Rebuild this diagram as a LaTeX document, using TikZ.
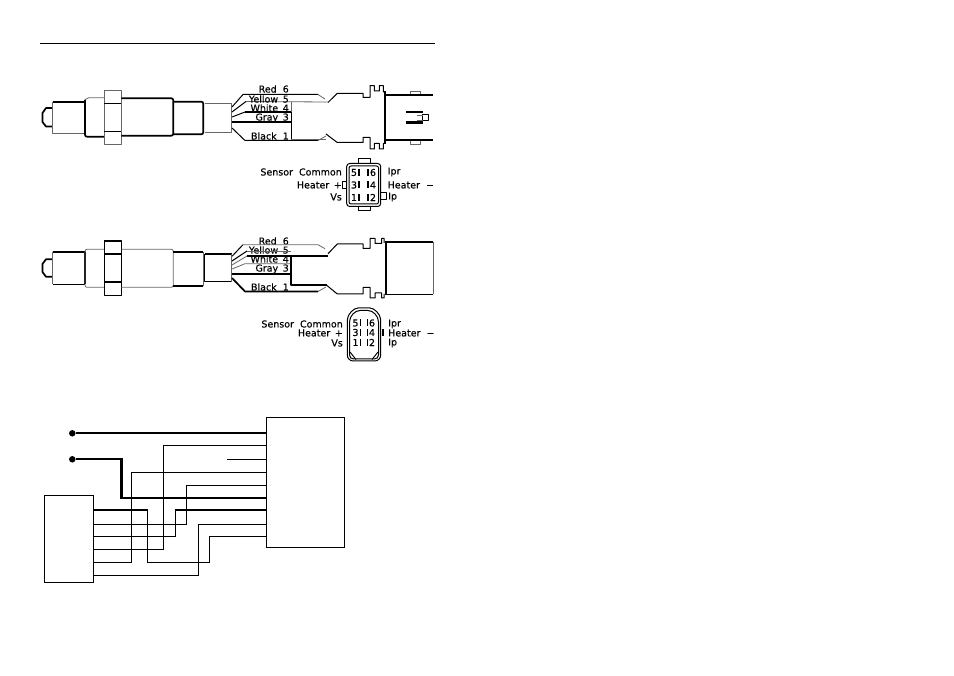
\documentclass[tikz,border=0pt]{standalone}
\usepackage{fontspec}
\setmainfont[FakeBold=0.4]{DejaVu Sans}
\begin{document}
\begin{tikzpicture}[x=1pt,y=-1pt]
	\tikzstyle{every node}=[inner sep=0pt,font=\fontsize{9.5}{10}\selectfont]
	\tikzstyle{heavy}=[line width=1.7pt,line join=round]
	\tikzstyle{light}=[line width=.8pt,black!60,line join=round]
	\tikzstyle{plain}=[line width=1pt,line join=round]
	\tikzstyle{wire}=[line width=1.1pt]
	\tikzstyle{bigwire}=[line width=2.4pt]
	\tikzstyle{box}=[draw,line width=1pt,anchor=north west]
	\tikzstyle{dot}=[fill=black,circle,outer sep=0pt,minimum size=6.5pt]
	\useasboundingbox (0,0) rectangle (954,676);
	\draw[plain] (40,44) -- (435,44);

	\draw[heavy] (52.7,108) -- (46,108) -- (42.5,113) -- (42.5,122) -- (46,126.5) -- (52.7,126.5);
	\draw[light] (52.7,126.5) -- (52.7,108);
	\draw[heavy] (52.7,101.7) -- (85,101.7) -- (85,133.3);
	\draw[light] (52.7,101.7) -- (52.7,133.3) -- (85,133.3);
	\draw[light,rounded corners=2pt] (104,97.7) -- (87,97.7) -- (85,100);
	\draw[heavy,rounded corners=2pt] (85,100) -- (85,136.7) -- (104,136.7);
	\draw[light] (104,90.3) rectangle (121.3,144.3);
	\draw[plain] (104,103.7) -- (121.3,103.7);
	\draw[plain] (104,131.7) -- (121.3,131.7);
	\draw[heavy,rounded corners=2pt] (121.3,98.3) -- (173.3,98.3) -- (173.3,135.7) -- (121.3,135.7);
	\draw[heavy,rounded corners=2pt] (173.3,101.7) -- (203.3,101.7) -- (203.3,134.3) -- (173.3,134.3);
	\draw[light] (204.5,103.3) -- (231.7,103.3) -- (231.7,132.3) -- (204.5,132.3);

	\draw[plain] (232,107) -- (243,94.5) -- (318,94.5);
	\draw[light] (318,94.5) -- (325,99);
	\draw[plain] (232,112) -- (246,101.5);
	\draw[light] (246,101.5) -- (328,102);
	\draw[plain] (232,117) -- (245,112);
	\draw[heavy] (245,112) -- (291,112);
	\draw[heavy] (232,122) -- (291,122);
	\draw[plain] (232,128) -- (245,140.5) -- (318,140.5);
	\draw[light] (318,140.5) -- (326,136);
	\draw[light] (291,102) -- (291,112);
	\draw[plain] (291,112) -- (291,139.3);
	\draw[light] (291,139.3) -- (326,139.3);
	\draw[plain] (328,102.5) -- (337.3,93.3) -- (363,93.3) -- (363,97.3) -- (370,97.3) -- (370,85.7) -- (374.3,85.7) -- (374.3,91) -- (379.3,91) -- (379.3,85.7) -- (383.3,85.7) -- (383.3,92) -- (385,92);
	\draw[plain] (326,134) -- (337.3,142.5) -- (363,142.5) -- (363,137.3) -- (370,137.3) -- (370,149) -- (374.3,149) -- (374.3,143.5) -- (379.3,143.5) -- (379.3,149) -- (383.3,149) -- (383.3,143.5) -- (385,143.5);
	\draw[heavy] (385,91) -- (385,144);
	\draw[heavy] (385,94.7) -- (433,94.7);
	\draw[heavy] (385,140) -- (433,140);
	\draw[light] (410,94) -- (410,91.3) -- (420,91.3) -- (420,94);
	\draw[light] (410,141) -- (410,144) -- (420,144) -- (420,141);
	\draw[bigwire] (406,112) -- (423,112);
	\draw[bigwire] (406,122.7) -- (423,122.7);
	\draw[plain] (422.7,114.3) rectangle (428.3,120.7);
	\draw[light] (417,115) -- (422.7,115);
	\draw[light] (417,120) -- (422.7,120);
	\foreach \name/\y/\txt in {redA/89/Red\ \ 6,yellowA/99/Yellow\, 5,whiteA/108/White\, 4,grayA/118/Gray\, 3,blackA/136/Black\ \ 1,
		redB/241/Red\ \ 6,yellowB/250/Yellow\, 5,whiteB/259/White\, 4,grayB/269/Gray\, 3,blackB/287/Black\ \ 1}
		\node[anchor=east] (\name) at (289,\y) {\txt};

	\draw[plain,rounded corners=3pt] (346.7,163.5) rectangle (380.7,206.5);
	\draw[plain,rounded corners=2pt] (349,166) rectangle (378.5,204);
	\draw[plain] (358.3,163.5) -- (358.3,159) -- (370,159) -- (370,163.5);
	\draw[plain] (358.3,206.5) -- (358.3,211) -- (370,211) -- (370,206.5);
	\draw[plain] (346.7,181.7) -- (342.7,181.7) -- (342.7,188.3) -- (346.7,188.3);
	\draw[plain] (380.7,192.3) -- (386,192.3) -- (386,200) -- (380.7,200);
	\foreach \name/\x/\y/\txt in {pinAa/354/172.5/5,pinAb/373/172.5/6,pinAc/354/185/3,pinAd/373/185/4,pinAe/354/197.5/1,pinAf/373/197.5/2}
		\node (\name) at (\x,\y) {\txt};
	\foreach \x in {359,368}
		\foreach \y in {172.5,185,197.5}
			\draw[heavy] (\x,\y-3.5) -- (\x,\y+3.5);
	\foreach \name/\y/\txt in {sensA/172/Sensor\ \ Common,heatA/185/Heater\,\ +,vsA/197/Vs}
		\node[anchor=east] (\name) at (342,\y) {\txt};
	\foreach \name/\y/\txt in {iprA/172/Ipr,heatMA/185/Heater\ \ −}
		\node[anchor=west] (\name) at (387.5,\y) {\txt};
	\node[anchor=west] (ipA) at (388,197) {Ip};

	\draw[heavy] (52.7,259.3) -- (46,259.3) -- (42.5,264) -- (42.5,272) -- (46,276.7) -- (52.7,276.7);
	\draw[light] (52.7,276.7) -- (52.7,259.3);
	\draw[heavy] (52.7,251.7) -- (85,251.7) -- (85,284.3);
	\draw[light] (52.7,251.7) -- (52.7,284.3);
	\draw[plain] (52.7,284.3) -- (85,284.3);
	\draw[light,rounded corners=2pt] (104,249.3) -- (85,249.3) -- (85,287.3) -- (104,287.3);
	\draw[plain] (104,240.7) rectangle (121.3,295.7);
	\draw[heavy] (104,241) -- (121.3,241);
	\draw[heavy] (104,254.3) -- (121.3,254.3);
	\draw[heavy] (104,281.7) -- (121.3,281.7);
	\draw[light,rounded corners=2pt] (121.3,249.3) -- (173.3,249.3) -- (173.3,287.3) -- (121.3,287.3);
	\draw[heavy,rounded corners=2pt] (173.3,251.7) -- (203.3,251.7);
	\draw[heavy] (173.3,286) -- (203.3,286);
	\draw[light,rounded corners=2pt] (203.3,251.7) -- (203.3,286);
	\draw[heavy] (204.5,254) -- (231.7,254);
	\draw[plain] (204.5,254) -- (204.5,281.7) -- (231.7,281.7);
	\draw[light] (231.7,254) -- (231.7,281.7);

	\draw[plain] (232,256.3) -- (243,244.7);
	\draw[light] (243,244.7) -- (318,244.7) -- (325,248.7);
	\draw[plain] (232,261) -- (247,251);
	\draw[light] (247,251) -- (291,251);
	\draw[light] (232,265) -- (247,256);
	\draw[heavy] (247,255.7) -- (328,255.7);
	\draw[light] (232,269) -- (245,263.7) -- (291,263.7);
	\draw[heavy] (232,273.7) -- (291,273.7);
	\draw[heavy] (232,278) -- (245,291.5) -- (318,291.5);
	\draw[light] (318,291.5) -- (326,287);
	\draw[heavy] (291,255.7) -- (291,284.7) -- (327,284.7);
	\draw[plain] (328,253.7) -- (337.3,244) -- (363,244) -- (363,248.3) -- (370,248.3) -- (370,238.3) -- (375,238.3) -- (375,243.3) -- (381.7,243.3) -- (381.7,238.3) -- (384,238.3) -- (384,243);
	\draw[plain] (326,284.7) -- (337.3,294) -- (363,294) -- (363,287.5) -- (370,287.5) -- (370,298) -- (375,298) -- (375,293) -- (381.7,293) -- (381.7,298) -- (384,298) -- (384,294);
	\draw[heavy] (385.7,241.5) -- (385.7,295);
	\draw[heavy] (385.7,242.3) -- (433,242.3);
	\draw[heavy] (385.7,294.5) -- (433,294.5);
	\draw[light] (433.5,242.3) -- (433.5,294.5);

	\draw[plain,rounded corners=6pt] (347.3,361) -- (347.3,326) .. controls (347.3,314) and (354,308) .. (364,308) .. controls (374,308) and (380.7,314) .. (380.7,326) -- (380.7,361) -- cycle;
	\draw[plain,rounded corners=4pt] (349.5,359) -- (349.5,326) .. controls (349.5,316) and (355,310.5) .. (364,310.5) .. controls (373,310.5) and (378.5,316) .. (378.5,326) -- (378.5,359) -- cycle;
	\draw[plain] (350,352) -- (356,359.5);
	\draw[plain] (378,352) -- (372,359.5);
	\draw[heavy] (383,329) -- (383,336.5);
	\foreach \name/\x/\y/\txt in {pinBa/355.5/323/5,pinBb/372/323/6,pinBc/355.5/332.5/3,pinBd/372/332.5/4,pinBe/355.5/342.5/1,pinBf/372/342.5/2}
		\node (\name) at (\x,\y) {\txt};
	\foreach \x in {360,367.5}
		\foreach \y in {323,332.5,342.5}
			\draw[plain] (\x,\y-3.5) -- (\x,\y+3.5);
	\foreach \name/\y/\txt in {sensB/324/Sensor\ \ Common,heatB/333/Heater\,\ +,vsB/343/Vs}
		\node[anchor=east] (\name) at (343,\y) {\txt};
	\foreach \name/\y/\txt in {iprB/324/Ipr,heatMB/333/Heater\ \ −,ipB/343/Ip}
		\node[anchor=west] (\name) at (388,\y) {\txt};

	\node[box,minimum width=77.6pt,minimum height=130.4pt] (rbox) at (266,417) {};
	\node[box,minimum width=49.4pt,minimum height=87.4pt] (lbox) at (44,495) {};
	\node[dot] (dotA) at (72.3,433.3) {};
	\node[dot] (dotB) at (72.3,459.3) {};
	\foreach \n/\y in {0/433.3,1/445.7,2/459.3,3/472.3,4/485.3,5/498,6/510,7/524.3,8/536.3}
		\coordinate (r\n) at (rbox.west |- 0,\y);
	\foreach \n/\y in {1/510,2/524.3,3/536.3,4/549.3,5/562.3,6/575.3}
		\coordinate (l\n) at (lbox.east |- 0,\y);
	\coordinate (stub) at (227.3,459.3);
	\draw[bigwire] (dotA) -- (r0);
	\draw[bigwire] (dotB) -| (121.3,498) -- (r5);
	\draw[wire] (stub) -- (r2);
	\foreach \rr/\xx/\ll in {1/163.3/4,3/131.3/5,4/186.3/2,6/175.3/3,7/198.7/6}
		\draw[wire] (r\rr) -| (\xx,0 |- l\ll) -- (l\ll);
	\draw[wire] (r8) -| (209.7,562.3) -| (147.7,510) -- (l1);
\end{tikzpicture}
\end{document}
